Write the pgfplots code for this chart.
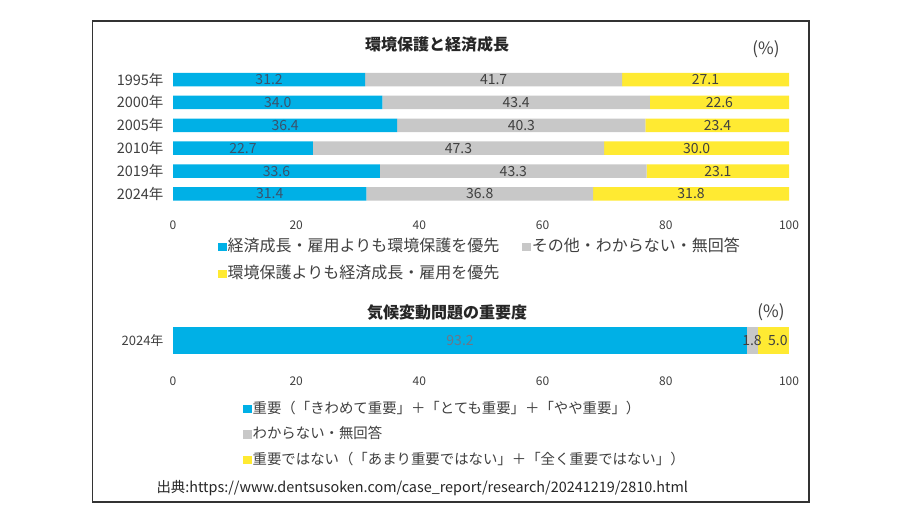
\documentclass[border=0pt]{standalone}
\usepackage{fontspec}
\setmainfont{Noto Sans CJK JP}
\usepackage{pgfplots}
\pgfplotsset{compat=1.18}

\definecolor{cblue}{RGB}{0,176,230}
\definecolor{cgray}{RGB}{200,200,200}
\definecolor{cyellow}{RGB}{255,234,50}
\definecolor{txt}{RGB}{64,64,64}
\definecolor{bluetxt}{RGB}{58,82,108}
\definecolor{lighttxt}{RGB}{105,120,138}

\pgfplotsset{
  sqlegend/.style={legend image code/.code={\fill[##1] (0pt,-4pt) rectangle (8.5pt,4.5pt);}},
  base/.style={
    scale only axis, width=616pt, xmin=0, xmax=100,
    axis line style={draw=none}, tick style={draw=none},
    xtick={0,20,...,100},
    /pgf/number format/assume math mode=true,
    xticklabel style={font=\fontsize{12}{12}\selectfont, text=txt},
    yticklabel style={text=txt, xshift=-6pt},
  },
  lab/.style={draw=none, mark=none, nodes near coords, point meta=explicit symbolic,
    nodes near coords align=center},
}

\begin{document}
\begin{tikzpicture}[x=1pt,y=1pt]
\path[fill=white] (0,0) rectangle (900,506);
\draw[line width=1.3pt, black!80] (92.5,4) rectangle (809,485);

% titles
\node[font=\fontsize{16}{16}\selectfont\bfseries, text=black!85] at (437,462) {環境保護と経済成長};
\node[font=\fontsize{17}{17}\selectfont, text=txt] at (766,457) {(\%)};
\node[font=\fontsize{16}{16}\selectfont\bfseries, text=black!85] at (447,193) {気候変動問題の重要度};
\node[font=\fontsize{17}{17}\selectfont, text=txt] at (771,194) {(\%)};
\node[anchor=west, font=\fontsize{14.4}{14.4}\selectfont, text=black!85] at (153,18)
  {出典:https://www.dentsusoken.com/case\_report/research/20241219/2810.html};

% chart 1
\begin{axis}[base, at={(173pt,300.55pt)}, anchor=south west, height=137.4pt,
  ymin=-0.5, ymax=5.5, y dir=reverse, xbar stacked, bar width=13.5pt,
  ytick={0,...,5}, yticklabels={1995年,2000年,2005年,2010年,2019年,2024年},
  yticklabel style={font=\fontsize{14.5}{14.5}\selectfont},
  xticklabel style={yshift=-12pt},
  legend columns=2, legend cell align=left,
  legend style={draw=none, fill=none, at={(0.073,-0.243)}, anchor=north west,
    inner sep=0pt, row sep=11pt, font=\fontsize{16}{16}\selectfont, text=txt,
    /tikz/every even column/.append style={column sep=22pt},
    nodes={inner sep=1pt, text height=11pt, text depth=3pt}},
]
\addplot[fill=cblue, draw=none, sqlegend] coordinates {(31.2,0) (34.0,1) (36.4,2) (22.7,3) (33.6,4) (31.4,5)};
\addlegendentry{経済成長・雇用よりも環境保護を優先}
\addplot[fill=cgray, draw=none, sqlegend] coordinates {(41.7,0) (43.4,1) (40.3,2) (47.3,3) (43.3,4) (36.8,5)};
\addlegendentry{その他・わからない・無回答}
\addplot[fill=cyellow, draw=none, sqlegend] coordinates {(27.1,0) (22.6,1) (23.4,2) (30.0,3) (23.1,4) (31.8,5)};
\addlegendentry{環境保護よりも経済成長・雇用を優先}
\end{axis}

% chart 1 value labels
\begin{axis}[base, hide axis, at={(173pt,300.55pt)}, anchor=south west, height=137.4pt,
  ymin=-0.5, ymax=5.5, y dir=reverse]
\addplot[lab, nodes near coords style={font=\fontsize{14}{14}\selectfont, text=bluetxt}]
  coordinates {(15.6,0)[31.2] (17.0,1)[34.0] (18.2,2)[36.4] (11.35,3)[22.7] (16.8,4)[33.6] (15.7,5)[31.4]};
\addplot[lab, nodes near coords style={font=\fontsize{14}{14}\selectfont, text=txt}]
  coordinates {(52.05,0)[41.7] (55.7,1)[43.4] (56.55,2)[40.3] (46.35,3)[47.3] (55.25,4)[43.3] (49.8,5)[36.8]};
\addplot[lab, nodes near coords style={font=\fontsize{14}{14}\selectfont, text=txt}]
  coordinates {(86.45,0)[27.1] (88.7,1)[22.6] (88.4,2)[23.4] (85.0,3)[30.0] (88.45,4)[23.1] (84.1,5)[31.8]};
\end{axis}

% chart 2
\begin{axis}[base, at={(173pt,145pt)}, anchor=south west, height=40pt,
  ymin=-0.5, ymax=0.5, xbar stacked, bar width=27pt,
  ytick={0}, yticklabels={2024年},
  yticklabel style={font=\fontsize{13}{13}\selectfont},
  xticklabel style={yshift=-12.5pt},
  legend columns=1, legend cell align=left,
  legend style={draw=none, fill=none, at={(0.1136,-1.0)}, anchor=north west,
    inner sep=0pt, row sep=9.5pt, font=\fontsize{14.4}{14.4}\selectfont, text=txt,
    nodes={inner sep=1pt, text height=11pt, text depth=3pt}},
]
\addplot[fill=cblue, draw=none, sqlegend] coordinates {(93.2,0)};
\addlegendentry{重要（「きわめて重要」＋「とても重要」＋「やや重要」）}
\addplot[fill=cgray, draw=none, sqlegend] coordinates {(1.8,0)};
\addlegendentry{わからない・無回答}
\addplot[fill=cyellow, draw=none, sqlegend] coordinates {(5.0,0)};
\addlegendentry{重要ではない（「あまり重要ではない」＋「全く重要ではない」）}
\end{axis}

% chart 2 value labels
\begin{axis}[base, hide axis, at={(173pt,145pt)}, anchor=south west, height=40pt,
  ymin=-0.5, ymax=0.5]
\addplot[lab, nodes near coords style={font=\fontsize{14}{14}\selectfont, text=lighttxt}]
  coordinates {(46.6,0)[93.2]};
\addplot[lab, nodes near coords style={font=\fontsize{14}{14}\selectfont, text=txt}]
  coordinates {(94.0,0)[1.8] (98.2,0)[5.0]};
\end{axis}
\end{tikzpicture}
\end{document}
